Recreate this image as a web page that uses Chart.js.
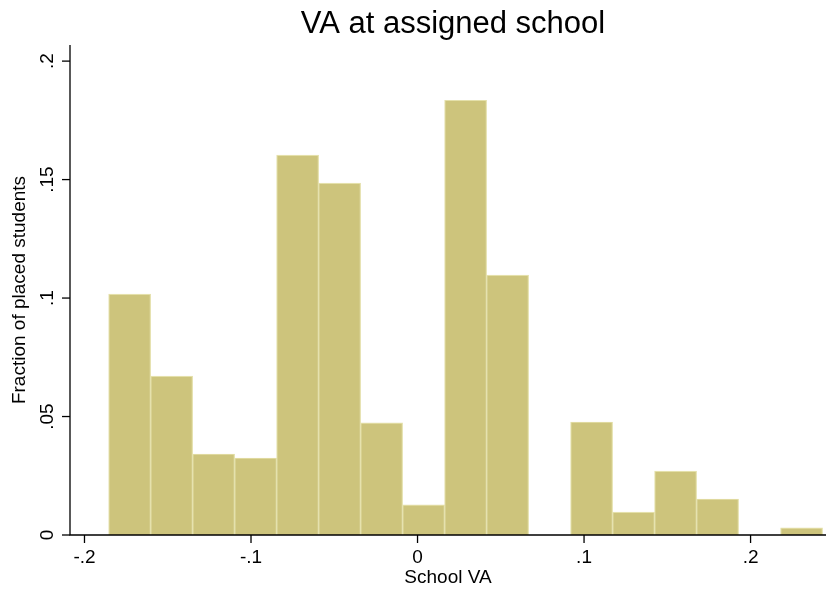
<!DOCTYPE html>
<html><head><script src="https://cdn.jsdelivr.net/npm/chart.js@4"></script>
<style>body{margin:0;background:#fff}</style></head>
<body><div style="width:830px;height:590px"><canvas id="c"></canvas></div>
<script>
const binStart = -0.1855;
const binWidth = 0.02522;
const fractions = [0.1017,0.0671,0.0342,0.0325,0.1603,0.1485,0.0473,0.0127,0.1835,0.1097,0,0.0477,0.0097,0.0270,0.0152,0,0.0030];
const xTicks = [-0.2,-0.1,0,0.1,0.2];
const xTickLabels = ['-.2','-.1','0','.1','.2'];
const yTicks = [0,0.05,0.1,0.15,0.2];
const yTickLabels = ['0','.05','.1','.15','.2'];
const data = fractions.map((v,i)=>({x: binStart + binWidth*(i+0.5), y: v}));
const F = 'Liberation Sans, Arial, sans-serif';
const deco = {id:'deco', afterDraw(ch){
  const c=ch.ctx, a=ch.chartArea, xs=ch.scales.x, ys=ch.scales.y;
  c.save(); c.strokeStyle='#000'; c.lineWidth=1.3;
  c.beginPath(); c.moveTo(a.left,a.top); c.lineTo(a.left,a.bottom); c.lineTo(a.right,a.bottom); c.stroke();
  c.fillStyle='#000'; c.font='19px '+F;
  xTicks.forEach((t,i)=>{const p=xs.getPixelForValue(t);
    c.beginPath(); c.moveTo(p,a.bottom); c.lineTo(p,a.bottom+8); c.stroke();
    c.textAlign='center'; c.textBaseline='top'; c.fillText(xTickLabels[i],p,a.bottom+13);});
  yTicks.forEach((t,i)=>{const p=ys.getPixelForValue(t);
    c.beginPath(); c.moveTo(a.left,p); c.lineTo(a.left-8,p); c.stroke();
    c.save(); c.translate(a.left-13,p); c.rotate(-Math.PI/2); c.textAlign='center'; c.textBaseline='bottom'; c.fillText(yTickLabels[i],0,0); c.restore();});
  c.font='19px '+F; c.textAlign='center'; c.textBaseline='middle';
  c.fillText('School VA',(a.left+a.right)/2,578);
  c.save(); c.translate(20,(a.top+a.bottom)/2); c.rotate(-Math.PI/2); c.fillText('Fraction of placed students',0,0); c.restore();
  c.font='31px '+F; c.fillText('VA at assigned school',(a.left+a.right)/2+5,24);
  c.restore();
}};
new Chart(document.getElementById('c'),{type:'bar',
  data:{datasets:[{data, backgroundColor:'rgb(205,196,124)', borderColor:'rgb(228,224,170)', borderWidth:1.2, barPercentage:1, categoryPercentage:1, grouped:false}]},
  options:{responsive:true,maintainAspectRatio:false,animation:false,devicePixelRatio:1,
    layout:{padding:{left:70,right:4,top:45,bottom:55}},
    plugins:{legend:{display:false},tooltip:{enabled:false}},
    scales:{x:{type:'linear',min:-0.2087,max:0.2453,display:false,offset:false},
            y:{min:0,max:0.2068,display:false}}},
  plugins:[deco]});
</script></body></html>
